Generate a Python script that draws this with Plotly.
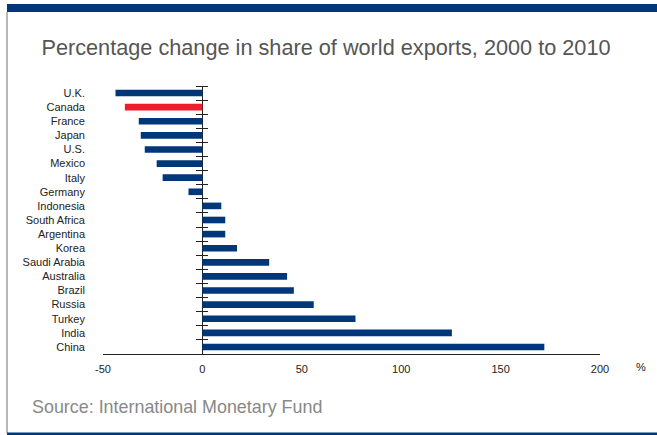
import plotly.graph_objects as go

# Percentage change in share of world exports, 2000 to 2010 (top to bottom)
countries = ["U.K.", "Canada", "France", "Japan", "U.S.", "Mexico", "Italy", "Germany",
             "Indonesia", "South Africa", "Argentina", "Korea", "Saudi Arabia", "Australia",
             "Brazil", "Russia", "Turkey", "India", "China"]
change_pct = [-43.7, -39, -32, -31, -29, -23, -20, -7,
              9.5, 11.5, 11.5, 17.4, 33.6, 42.6,
              46, 56, 77, 125.5, 172]
highlight = "Canada"
x_ticks = [-50, 0, 50, 100, 150, 200]

NAVY = "#00377A"
RED = "#EE1D2B"

W, H = 657, 435
L, R, T, B = 103, 57, 86, 81
PW, PH = W - L - R, H - T - B
X_MIN, X_MAX = -50, 200
TICK_HALF = 6  # px each side of the zero line


def px(xp):
    return (xp - L) / PW


def py(yp):
    return (H - B - yp) / PH


colors = [RED if c == highlight else NAVY for c in countries]

fig = go.Figure()
fig.add_trace(go.Bar(
    x=change_pct, y=countries, orientation="h",
    marker=dict(color=colors, line=dict(width=0)),
    hoverinfo="x+y",
))

zero_pos = (0 - X_MIN) / (X_MAX - X_MIN)
cat_axis = dict(type="category", categoryorder="array", categoryarray=countries,
                autorange="reversed", tickmode="linear", tick0=0, dtick=1)

fig.update_layout(
    width=W, height=H,
    margin=dict(l=L, r=R, t=T, b=B),
    paper_bgcolor="white", plot_bgcolor="white",
    showlegend=False,
    bargap=0.53,
    font=dict(family="Liberation Sans, Arial, Helvetica, sans-serif", color="#222"),
    title=dict(text="Percentage change in share of world exports, 2000 to 2010",
               x=326 / W, xref="container", xanchor="center",
               y=1 - 47 / H, yref="container", yanchor="middle",
               font=dict(size=21.7, color="#555")),
    xaxis=dict(range=[X_MIN, X_MAX], tickvals=x_ticks, ticktext=[str(v) for v in x_ticks],
               showgrid=False, zeroline=True, zerolinecolor="#222", zerolinewidth=1.2,
               showline=True, linecolor="#222",
               linewidth=1.2, ticks="", ticklabelstandoff=5,
               tickfont=dict(size=11, color="#222"), fixedrange=True),
    yaxis=dict(**cat_axis, showgrid=False, zeroline=False, showline=False, ticks="",
               ticklabelstandoff=17, tickfont=dict(size=11, color="#222")),
    # category-boundary ticks crossing the zero line
    yaxis2=dict(**cat_axis, overlaying="y", anchor="free",
                position=zero_pos + TICK_HALF / PW, side="left",
                showline=False, ticks="outside",
                tickson="boundaries", ticklen=2 * TICK_HALF, tickwidth=1.2, tickcolor="#222",
                showticklabels=False, showgrid=False, zeroline=False),
)

# invisible companion trace so the overlay axis is drawn
fig.add_trace(go.Bar(x=[None] * len(countries), y=countries, yaxis="y2",
                     orientation="h", hoverinfo="skip", showlegend=False))

fig.add_annotation(text="%", xref="paper", yref="paper", x=px(641), y=py(367),
                   xanchor="center", yanchor="middle",
                   showarrow=False, font=dict(size=11, color="#222"))
fig.add_annotation(text="Source: International Monetary Fund", xref="paper", yref="paper",
                   x=px(30), y=py(407), xanchor="left", yanchor="middle",
                   showarrow=False, font=dict(size=17.9, color="#888"))

# page frame: navy band on top, thin grey rule on the left, navy rule at the bottom
fig.add_shape(type="rect", xref="paper", yref="paper", x0=px(7), x1=px(W), y0=py(12), y1=py(4),
              fillcolor=NAVY, line=dict(width=0), layer="above")
fig.add_shape(type="line", xref="paper", yref="paper", x0=px(7), x1=px(7), y0=py(12), y1=py(433),
              line=dict(color="#A0A0A0", width=1.5))
fig.add_shape(type="rect", xref="paper", yref="paper", x0=px(7), x1=px(W), y0=py(H), y1=py(432.5),
              fillcolor=NAVY, line=dict(width=0), layer="above")

fig.write_html("out.html")
